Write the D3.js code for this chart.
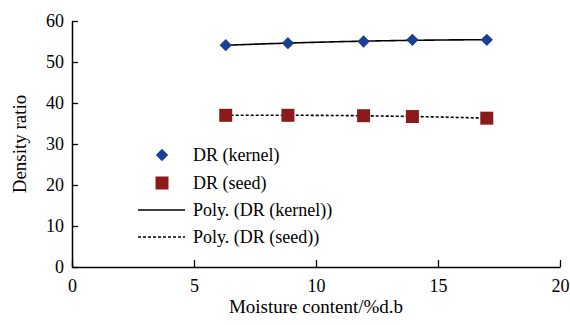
<!DOCTYPE html>
<html>
<head>
<meta charset="utf-8">
<script src="https://cdn.jsdelivr.net/npm/d3@7"></script>
<style>
  body { margin: 0; background: #fff; }
  svg, svg text { font-family: "Liberation Serif", Tinos, Times, serif !important; }
</style>
</head>
<body>
<svg width="570" height="325" font-family="Liberation Serif"></svg>
<script>
const moisture = [6.3, 8.85, 11.95, 13.95, 17.0];
const drKernel = [54.1, 54.6, 55.0, 55.4, 55.4];
const drSeed = [37.0, 37.0, 36.9, 36.7, 36.3];
const xTicks = [0, 5, 10, 15, 20];
const yTicks = [0, 10, 20, 30, 40, 50, 60];
const legendLabels = ["DR (kernel)", "DR (seed)", "Poly. (DR (kernel))", "Poly. (DR (seed))"];

const kernelColor = "#1c3f94";
const seedColor = "#8b1a1a";
const serifFont = '"Liberation Serif", Tinos, Times, serif';

const svg = d3.select("svg");
const x = d3.scaleLinear().domain([0, 20]).range([72, 560]);
const y = d3.scaleLinear().domain([0, 60]).range([267, 21]);

// quadratic least squares, like the spreadsheet's Poly. trendline
function polyFit(xs, ys) {
  let s = [0, 0, 0, 0, 0], t = [0, 0, 0];
  xs.forEach((xv, i) => {
    for (let k = 0; k < 5; k++) s[k] += Math.pow(xv, k);
    for (let k = 0; k < 3; k++) t[k] += ys[i] * Math.pow(xv, k);
  });
  const A = [[s[0], s[1], s[2], t[0]], [s[1], s[2], s[3], t[1]], [s[2], s[3], s[4], t[2]]];
  for (let i = 0; i < 3; i++) {
    for (let j = i + 1; j < 3; j++) {
      const f = A[j][i] / A[i][i];
      for (let k = i; k < 4; k++) A[j][k] -= f * A[i][k];
    }
  }
  const c = [0, 0, 0];
  for (let i = 2; i >= 0; i--) {
    let v = A[i][3];
    for (let k = i + 1; k < 3; k++) v -= A[i][k] * c[k];
    c[i] = v / A[i][i];
  }
  return xv => c[0] + c[1] * xv + c[2] * xv * xv;
}

const xAxis = svg.append("g")
  .attr("transform", `translate(0,${y(0)})`)
  .call(d3.axisBottom(x).tickValues(xTicks).tickSizeInner(-7).tickSizeOuter(0).tickPadding(12));
const yAxis = svg.append("g")
  .attr("transform", `translate(${x(0)},0)`)
  .call(d3.axisLeft(y).tickValues(yTicks).tickSizeInner(-6).tickSizeOuter(0).tickPadding(8));

[xAxis, yAxis].forEach(g => {
  g.attr("font-family", serifFont).attr("font-size", 18);
  g.select(".domain").attr("stroke", "#000").attr("stroke-width", 1.5);
  g.selectAll(".tick line").attr("stroke", "#000").attr("stroke-width", 1.3);
});

svg.append("text")
  .attr("x", x(10)).attr("y", 313)
  .attr("text-anchor", "middle").attr("font-size", 19)
  .text("Moisture content/%d.b");

svg.append("text")
  .attr("transform", `translate(26,${y(30)}) rotate(-90)`)
  .attr("text-anchor", "middle").attr("font-size", 19)
  .text("Density ratio");

// trendlines
const fitK = polyFit(moisture, drKernel);
const fitS = polyFit(moisture, drSeed);
const xs = d3.range(moisture[0], moisture[moisture.length - 1] + 0.001, 0.1);
const line = f => d3.line().x(d => x(d)).y(d => y(f(d)));

svg.append("path").datum(xs).attr("d", line(fitK))
  .attr("fill", "none").attr("stroke", "#000").attr("stroke-width", 1.6);
svg.append("path").datum(xs).attr("d", line(fitS))
  .attr("fill", "none").attr("stroke", "#000").attr("stroke-width", 1.6)
  .attr("stroke-dasharray", "3,2");

const diamond = d3.symbol().type(d3.symbolSquare).size(76);
const square = d3.symbol().type(d3.symbolSquare).size(169);

svg.append("g").selectAll("path")
  .data(moisture.map((m, i) => [m, drSeed[i]]))
  .join("path")
  .attr("d", square)
  .attr("transform", d => `translate(${x(d[0])},${y(d[1])})`)
  .attr("fill", seedColor);

svg.append("g").selectAll("path")
  .data(moisture.map((m, i) => [m, drKernel[i]]))
  .join("path")
  .attr("d", diamond)
  .attr("transform", d => `translate(${x(d[0])},${y(d[1])}) rotate(45)`)
  .attr("fill", kernelColor);

// legend
const legend = svg.append("g");
const rowY = [155, 183, 210, 237];
legendLabels.forEach((lab, i) => {
  const g = legend.append("g").attr("transform", `translate(0,${rowY[i]})`);
  if (i === 0) {
    g.append("path").attr("d", diamond).attr("transform", "translate(162,0) rotate(45)").attr("fill", kernelColor);
  } else if (i === 1) {
    g.append("path").attr("d", square).attr("transform", "translate(162,0)").attr("fill", seedColor);
  } else {
    g.append("line").attr("x1", 138).attr("x2", 185).attr("y1", 0).attr("y2", 0)
      .attr("stroke", "#000").attr("stroke-width", 1.6)
      .attr("stroke-dasharray", i === 3 ? "3,2" : null);
  }
  g.append("text").attr("x", 193).attr("y", 6).attr("font-size", 18).text(lab);
});

svg.selectAll("text").style("font-family", serifFont).attr("fill", "#000");
</script>
</body>
</html>
